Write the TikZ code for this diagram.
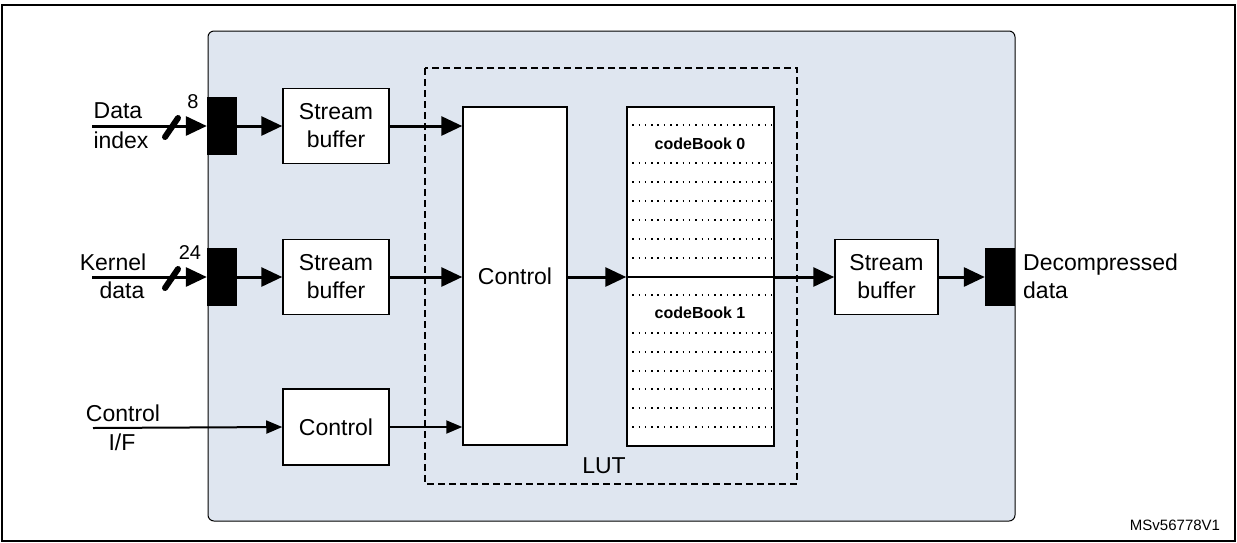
\documentclass[tikz,border=0pt]{standalone}
\usepackage{fontspec}
\setmainfont{Liberation Sans}
\usetikzlibrary{arrows.meta}
\begin{document}
\begin{tikzpicture}[x=1pt,y=-1pt,
  box/.style={draw,line width=1.5pt,fill=white,inner sep=0pt},
  lbl/.style={font=\fontsize{23}{28}\selectfont,align=center,inner sep=0pt},
  port/.style={fill=black,inner sep=0pt},
  big/.style={line width=3pt,-{Triangle[length=21pt,width=19pt]}},
  thin/.style={line width=2pt,-{Triangle[length=16pt,width=13pt]}}]
\useasboundingbox (0,0) rectangle (1237,542);
\draw[line width=2pt] (2,5) rectangle (1235,541);
\draw[fill={rgb,255:red,223;green,230;blue,240},line width=1pt,rounded corners=6pt] (208,31) rectangle (1015,521);
\draw[line width=1.5pt,dash pattern=on 7pt off 4pt] (425,68) rectangle (797,484);
% ports
\node[port,minimum width=30pt,minimum height=58pt] (p1) at (222,126) {};
\node[port,minimum width=30pt,minimum height=58pt] (p2) at (222,277) {};
\node[port,minimum width=30pt,minimum height=58pt] (p3) at (1000,277) {};
% buffers
\node[box,minimum width=106pt,minimum height=75pt,lbl] (sb1) at (336,126) {Stream\\buffer};
\node[box,minimum width=106pt,minimum height=75pt,lbl] (sb2) at (336,277) {Stream\\buffer};
\node[box,minimum width=106pt,minimum height=76pt,lbl] (ctl) at (336,427) {Control};
\node[box,minimum width=104pt,minimum height=338pt,lbl] (bc) at (515,276) {Control};
\node[box,minimum width=147pt,minimum height=339pt] (cb) at (700.5,276.5) {};
\node[box,minimum width=103pt,minimum height=75pt,lbl] (sb3) at (886.5,277) {Stream\\buffer};
% dotted rows
\foreach \y in {125,163,182,201,220,239,258,295,333,352,371,389,408,427}
  \draw[line width=1.5pt,dash pattern=on 1.5pt off 4.8pt] (cb.west|-0,\y) ++(6,0) -- (cb.east|-0,\y);
\node[font=\bfseries\fontsize{16}{18}\selectfont] (cb0) at (700,144) {codeBook 0};
\node[font=\bfseries\fontsize{16}{18}\selectfont] (cb1) at (700,313) {codeBook 1};
\node[lbl] (lut) at (604,466) {LUT};
% inputs
\coordinate (i1) at (92,126);
\coordinate (i2) at (92,277);
\coordinate (i3) at (93,428);
\draw[big] (i1) -- (p1.west);
\draw[big] (i2) -- (p2.west);
\draw[line width=6pt,line cap=round] (165,137) -- (178,118);
\draw[line width=6pt,line cap=round] (165,288) -- (178,269);
\node[font=\fontsize{20}{22}\selectfont] (n8) at (193,102) {8};
\node[font=\fontsize{20}{22}\selectfont] (n24) at (190,253) {24};
\node[lbl] (di1) at (118,111) {Data};
\node[lbl] (di2) at (121,140) {index};
\node[lbl] (kd1) at (113,262) {Kernel};
\node[lbl] (kd2) at (122,290) {data};
\node[lbl] (ci1) at (123,413) {Control};
\node[lbl] (ci2) at (122,442) {I/F};
\draw[thin] (i3) -- (ctl.west);
\draw[big] (p1.east) -- (sb1.west);
\draw[big] (p2.east) -- (sb2.west);
\draw[big] (sb1.east) -- (bc.west|-sb1.east);
\draw[big] (sb2.east) -- (bc.west|-sb2.east);
\draw[thin] (ctl.east) -- (bc.west|-ctl.east);
\draw[big] (bc.east|-0,277) -- (cb.west|-0,277);
\draw[line width=1.2pt] (cb.west|-0,277) -- (cb.east|-0,277);
\draw[big] (cb.east|-0,277) -- (sb3.west);
\draw[big] (sb3.east) -- (p3.west);
\node[lbl,align=left,anchor=west] (dd) at (1023,276) {Decompressed\\data};
\node[font=\fontsize{15}{18}\selectfont] (ms) at (1175,525) {MSv56778V1};
\end{tikzpicture}
\end{document}
